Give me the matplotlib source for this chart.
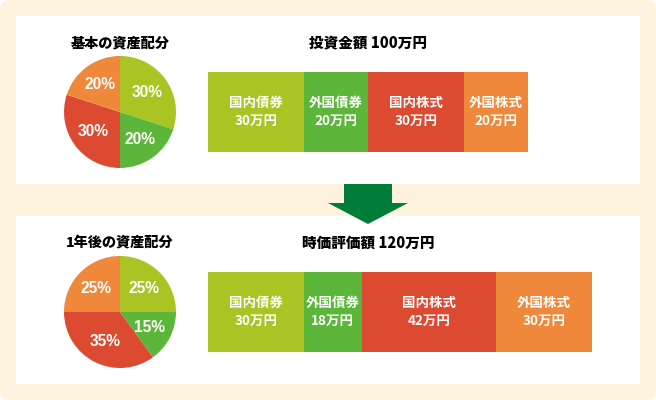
import matplotlib.pyplot as plt
from matplotlib.patches import FancyBboxPatch, Rectangle, Polygon

plt.rcParams['font.family'] = ['Noto Sans CJK JP', 'DejaVu Sans']

# data
assets = ['国内債券', '外国債券', '国内株式', '外国株式']
colors = ['#a9c423', '#5cb639', '#db4a31', '#ef883a']

base_share = [30, 20, 30, 20]
after_share = [25, 15, 35, 25]

invest_amount = [30, 20, 30, 20]
market_amount = [30, 18, 42, 30]

pie_titles = ['基本の資産配分', '1年後の資産配分']
bar_titles = ['投資金額 100万円', '時価評価額 120万円']

W, H = 656, 400
fig = plt.figure(figsize=(W / 100, H / 100), dpi=100)


def frac(x, y, w, h):
    # pixel box (top-left origin) -> figure fraction
    return [x / W, 1 - (y + h) / H, w / W, h / H]


bg = fig.add_axes([0, 0, 1, 1])
bg.set_xlim(0, W)
bg.set_ylim(H, 0)
bg.axis('off')
bg.add_patch(FancyBboxPatch((0, 0), W, H, boxstyle='round,pad=0,rounding_size=9',
                            fc='#fef3de', ec='none'))
bg.add_patch(Rectangle((16, 16), 624, 168, fc='white', ec='none'))
bg.add_patch(Rectangle((16, 216), 624, 168, fc='white', ec='none'))
bg.add_patch(Rectangle((344, 184), 48, 20, fc='#007d38', ec='none'))
bg.add_patch(Polygon([(328, 203), (408, 203), (368, 224)], closed=True, fc='#007d38', ec='none'))


def draw_pie(top, shares, title):
    ax = fig.add_axes(frac(64, top + 40, 112, 112))
    wedges, texts = ax.pie(shares, colors=colors, startangle=90, counterclock=False,
                           labels=[f'{s}%' for s in shares], labeldistance=0.6,
                           wedgeprops=dict(linewidth=0))
    for t in texts:
        t.set_ha('center')
        t.set_va('center')
        t.set_color('white')
        t.set_fontsize(11.2)
        t.set_fontweight('bold')
        t.set_family(['Liberation Sans', 'DejaVu Sans'])
    ax.set_xlim(-1, 1)
    ax.set_ylim(-1, 1)
    bg.text(120, top + 27, title, ha='center', va='center', fontsize=10.2, fontweight='heavy')


def draw_bar(top, amounts, title):
    ax = fig.add_axes(frac(208, top + 56, 384, 80))
    left = 0
    for name, v, c in zip(assets, amounts, colors):
        ax.barh([0], [v], left=left, height=1, color=c, linewidth=0)
        mid = left + v / 2
        ax.annotate(name, (mid, 0), xytext=(0, 6.3), textcoords='offset points',
                    ha='center', va='center', color='white', fontsize=9.7, fontweight='bold')
        ax.annotate(f'{v}万円', (mid, 0), xytext=(0, -6.6), textcoords='offset points',
                    ha='center', va='center', color='white', fontsize=9.7, fontweight='bold')
        left += v
    ax.set_xlim(0, 120)
    ax.set_ylim(-0.5, 0.5)
    ax.axis('off')
    bg.text(368, top + 27, title, ha='center', va='center', fontsize=10.5, fontweight='heavy')


draw_pie(16, base_share, pie_titles[0])
draw_pie(216, after_share, pie_titles[1])
draw_bar(16, invest_amount, bar_titles[0])
draw_bar(216, market_amount, bar_titles[1])

fig.savefig('out.png', dpi=100)
